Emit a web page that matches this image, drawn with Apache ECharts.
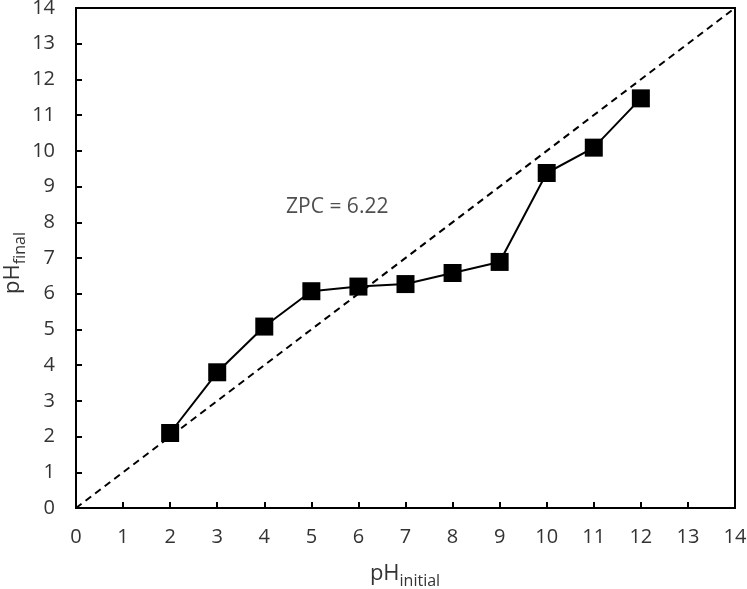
<!DOCTYPE html>
<html>
<head>
<meta charset="utf-8">
<script src="https://cdn.jsdelivr.net/npm/echarts@6/dist/echarts.min.js"></script>
<style>html,body{margin:0;padding:0;background:#fff;}#c{width:747px;height:589px;}</style>
</head>
<body>
<div id="c"></div>
<script>
var pHInitial = [2, 3, 4, 5, 6, 7, 8, 9, 10, 11, 12];
var pHFinal = [2.1, 3.8, 5.08, 6.07, 6.2, 6.27, 6.58, 6.89, 9.38, 10.09, 11.47];
var refLineX = [0, 14];
var refLineY = [0, 14];
var annotationText = 'ZPC = 6.22';
var annotationPos = [5.55, 8.42];
var xTitle = ['pH', 'initial'];
var yTitle = ['pH', 'final'];

var font = '"Open Sans", sans-serif';
var titleRich = {
  a: {fontSize: 22, fontFamily: font, fill: '#333', color: '#333', verticalAlign: 'bottom', padding: [0, 0, 5, 0]},
  b: {fontSize: 16, fontFamily: font, fill: '#333', color: '#333', verticalAlign: 'bottom'}
};
var chart = echarts.init(document.getElementById('c'));
chart.setOption({
  animation: false,
  backgroundColor: '#fff',
  grid: {left: 76, right: 12, top: 8, bottom: 81, containLabel: false, outerBoundsMode: 'none',
         show: true, borderColor: '#000', borderWidth: 2, backgroundColor: 'transparent'},
  graphic: [
    {type: 'text', x: 405, y: 576, style: {text: '{a|' + xTitle[0] + '}{b|' + xTitle[1] + '}', rich: titleRich, align: 'center', verticalAlign: 'middle'}},
    {type: 'text', x: 15, y: 263, rotation: Math.PI / 2, style: {text: '{a|' + yTitle[0] + '}{b|' + yTitle[1] + '}', rich: titleRich, align: 'center', verticalAlign: 'middle'}}
  ],
  xAxis: {
    type: 'value', min: 0, max: 14, interval: 1,
    axisLine: {show: true, lineStyle: {color: '#000', width: 2}},
    axisTick: {show: true, inside: true, length: 6, lineStyle: {color: '#000', width: 2}},
    splitLine: {show: false},
    axisLabel: {margin: 19, fontSize: 20, color: '#333', fontFamily: font}
  },
  yAxis: {
    type: 'value', min: 0, max: 14, interval: 1,
    axisLine: {show: true, lineStyle: {color: '#000', width: 2}},
    axisTick: {show: true, inside: true, length: 6, lineStyle: {color: '#000', width: 2}},
    splitLine: {show: false},
    axisLabel: {margin: 21, fontSize: 20, color: '#333', fontFamily: font}
  },
  series: [
    {
      type: 'line',
      data: refLineX.map(function(v, i){ return [v, refLineY[i]]; }),
      symbol: 'none',
      lineStyle: {color: '#000', width: 2, type: [7, 5]},
      z: 2
    },
    {
      type: 'line',
      data: pHInitial.map(function(v, i){ return [v, pHFinal[i]]; }),
      symbol: 'rect', symbolSize: 18,
      itemStyle: {color: '#000'},
      lineStyle: {color: '#000', width: 2},
      z: 3
    },
    {
      type: 'scatter',
      data: [annotationPos],
      symbolSize: 1,
      itemStyle: {color: 'rgba(0,0,0,0)'},
      silent: true,
      label: {show: true, position: 'inside', formatter: annotationText, fontSize: 21, color: '#222', fontFamily: font},
      z: 4
    }
  ]
});
</script>
</body>
</html>
